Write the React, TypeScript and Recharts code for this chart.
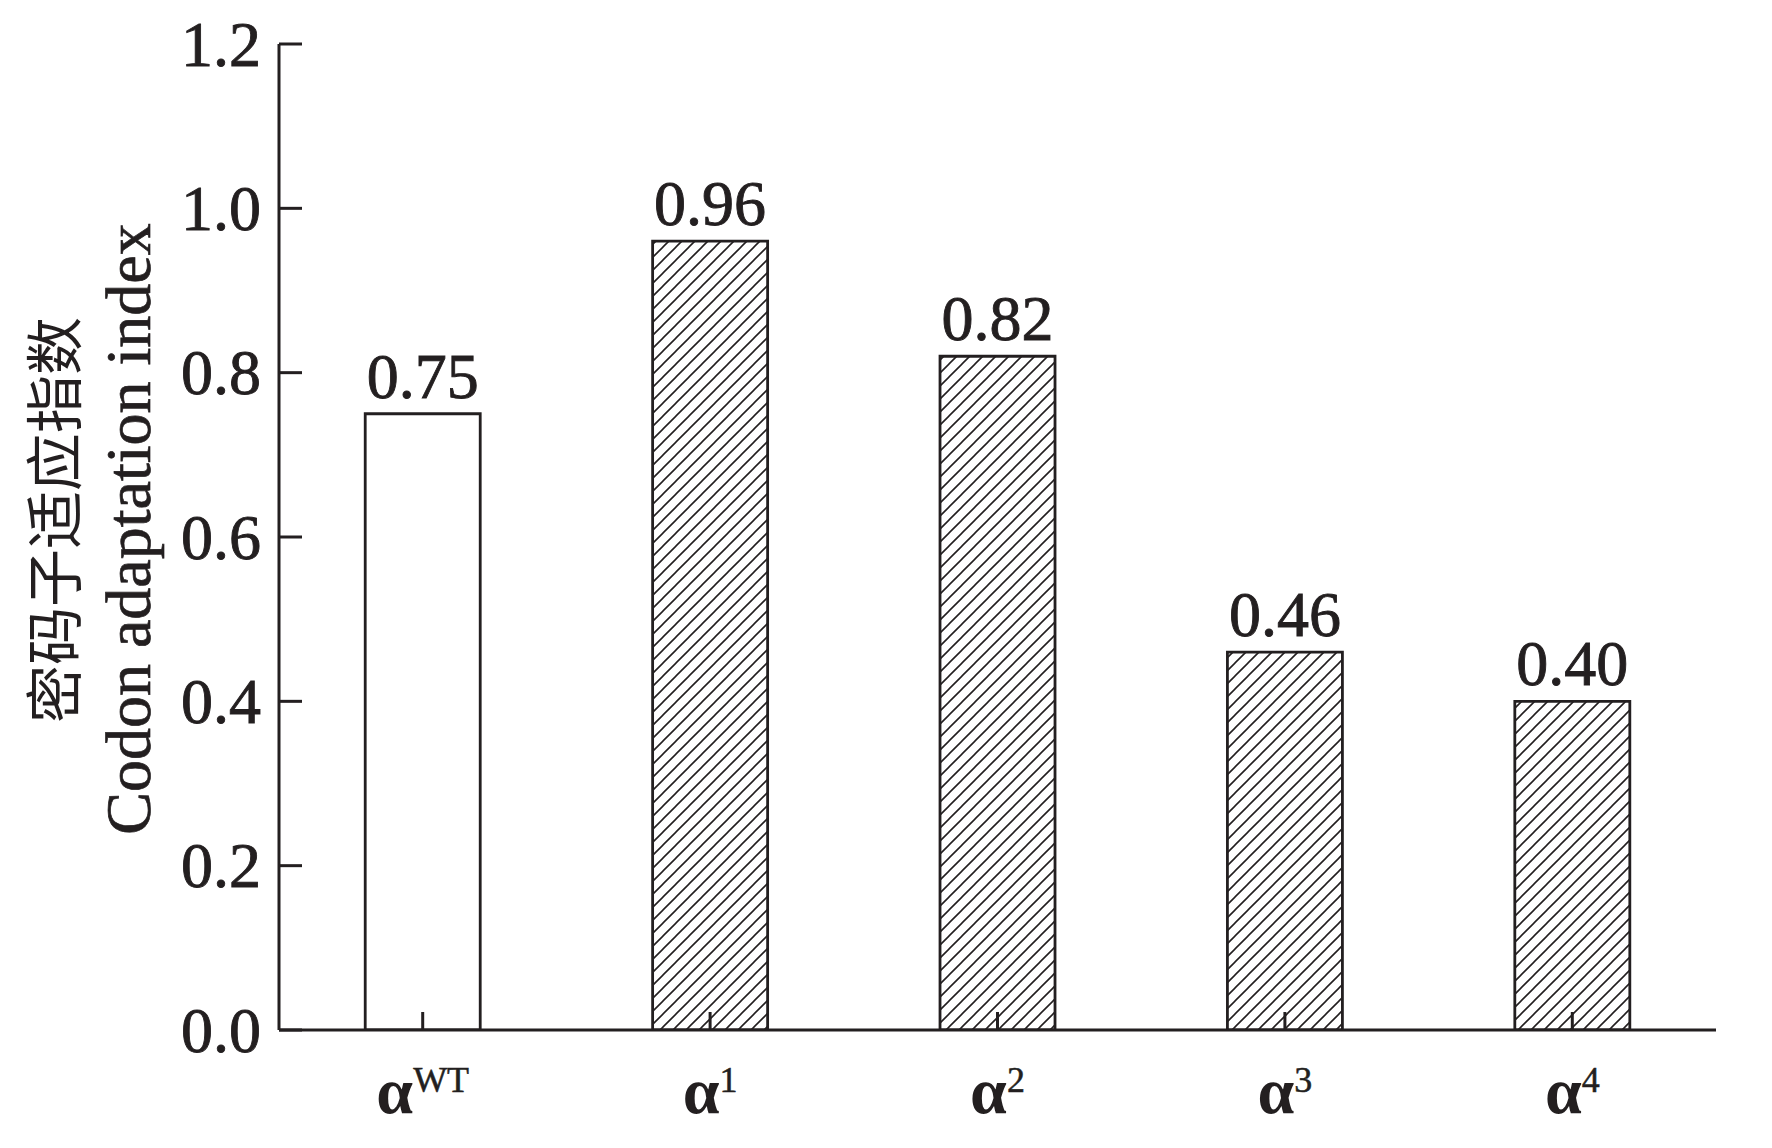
import React from 'react';
import { BarChart, Bar, XAxis, YAxis, Cell, LabelList } from 'recharts';

const variants = ['WT', '1', '2', '3', '4'];
const cai = [0.75, 0.96, 0.82, 0.46, 0.40];
const yTicks = [0, 0.2, 0.4, 0.6, 0.8, 1.0, 1.2];

const INK = '#231f20';
const SERIF = '"Liberation Serif", "Times New Roman", serif';

const data = variants.map((v, i) => ({ name: v, value: cai[i] }));

function YTick(props: any) {
  const { x, y, payload } = props;
  return (
    <g>
      <line x1={x} y1={y} x2={x + 23} y2={y} stroke={INK} strokeWidth={3} />
      <text x={x - 18} y={y} dy="0.34em" textAnchor="end" fontFamily={SERIF} fontSize={64}
        fill={INK} stroke={INK} strokeWidth={0.9}>
        {Number(payload.value).toFixed(1)}
      </text>
    </g>
  );
}

function XTick(props: any) {
  const { x, y, payload } = props;
  return (
    <g>
      <line x1={x} y1={y} x2={x} y2={y - 18} stroke={INK} strokeWidth={3} />
      <text x={x} y={y + 83} textAnchor="middle" fontFamily={SERIF} fill={INK}>
        <tspan fontWeight="bold" fontSize={66}>α</tspan>
        <tspan fontSize={36} dy={-21} stroke={INK} strokeWidth={0.5}>{payload.value}</tspan>
      </text>
    </g>
  );
}

function YTitle() {
  return (
    <g>
      <text x={51} y={520} transform="rotate(-90 51 520)" textAnchor="middle" dominantBaseline="central"
        fontFamily='"Noto Sans CJK SC", sans-serif' fontSize={58} fill={INK}>
        密码子适应指数
      </text>
      <text x={128} y={529} transform="rotate(-90 128 529)" textAnchor="middle" dominantBaseline="central"
        fontFamily={SERIF} fontSize={64} fill={INK} stroke={INK} strokeWidth={0.7}>
        Codon adaptation index
      </text>
    </g>
  );
}

export default function App() {
  return (
    <div style={{ position: 'absolute', left: 0, top: 0, width: 1772, height: 1148, background: '#fff' }}>
      <svg width={0} height={0} style={{ position: 'absolute' }}>
        <defs>
          <pattern id="hatch" patternUnits="userSpaceOnUse" width={13} height={13}>
            <path d="M-3,3 L3,-3 M0,13 L13,0 M10,16 L16,10" stroke={INK} strokeWidth={1.6} />
          </pattern>
        </defs>
      </svg>
      <BarChart width={1772} height={1148} data={data}
        margin={{ top: 44, right: 56, left: 0, bottom: 0 }} barCategoryGap="30%">
        <XAxis dataKey="name" height={118} axisLine={{ stroke: INK, strokeWidth: 3 }}
          tickLine={false} tickSize={0} tickMargin={0} tick={<XTick />} interval={0} />
        <YAxis width={279} domain={[0, 1.2]} ticks={yTicks} allowDataOverflow
          axisLine={{ stroke: INK, strokeWidth: 3 }} tickLine={false} tickSize={0} tickMargin={0}
          tick={<YTick />} label={{ content: () => <YTitle /> }} />
        <Bar dataKey="value" isAnimationActive={false} stroke={INK} strokeWidth={2.8}>
          {data.map((d, i) => (
            <Cell key={d.name} fill={i === 0 ? '#fff' : 'url(#hatch)'} />
          ))}
          <LabelList dataKey="value" position="top" offset={16}
            formatter={(v: any) => Number(v).toFixed(2)}
            style={{ fontFamily: SERIF, fontSize: 64, fill: INK, stroke: INK, strokeWidth: 0.9 }} />
        </Bar>
      </BarChart>
    </div>
  );
}
